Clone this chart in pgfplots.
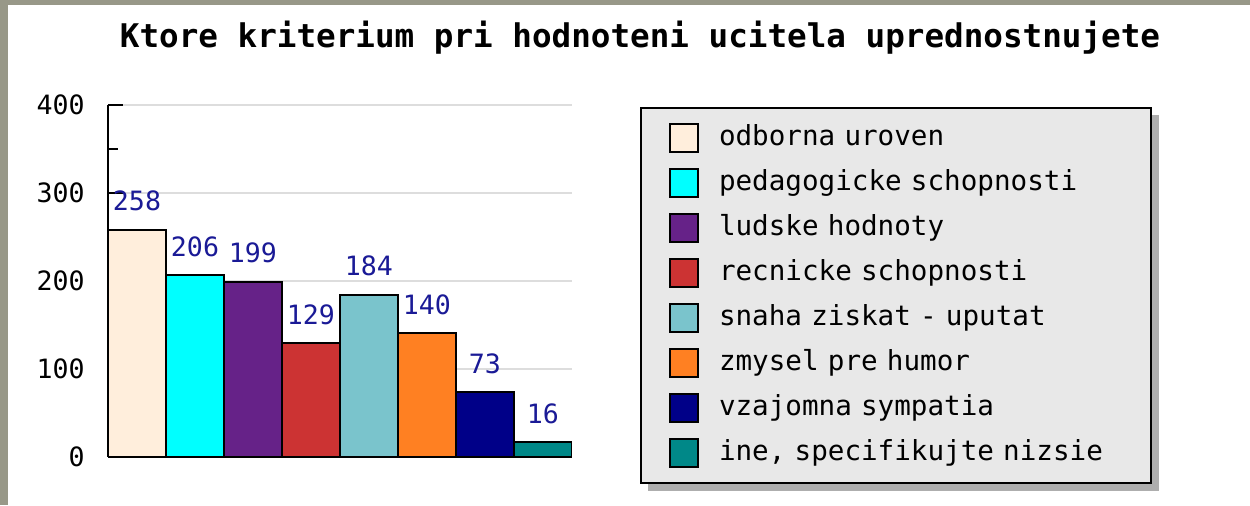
\documentclass[border=0pt]{standalone}
\usepackage{fontspec}
\setmainfont{DejaVu Sans}
\setmonofont{DejaVu Sans Mono}
\usepackage{pgfplots}
\pgfplotsset{compat=1.18}

\definecolor{framegray}{RGB}{152,152,136}
\definecolor{gridgray}{RGB}{221,221,221}
\definecolor{legendgray}{RGB}{232,232,232}
\definecolor{shadowgray}{RGB}{174,174,174}
\definecolor{valblue}{RGB}{26,26,150}
\definecolor{c1}{RGB}{255,238,220}
\definecolor{c2}{RGB}{0,255,255}
\definecolor{c3}{RGB}{102,34,136}
\definecolor{c4}{RGB}{204,51,51}
\definecolor{c5}{RGB}{122,196,204}
\definecolor{c6}{RGB}{255,128,34}
\definecolor{c7}{RGB}{0,0,136}
\definecolor{c8}{RGB}{0,136,136}

\pgfplotsset{
  leg/.style={legend image code/.code={%
    \draw[##1, draw=black, line width=1.2pt] (0.6pt,-7pt) rectangle (14.4pt,7pt);}},
  bar/.style={fill=#1, draw=black, line width=1pt, leg},
}

\begin{document}
\begin{tikzpicture}
  % background and frame
  \fill[white] (0,0) rectangle (625pt,252.5pt);
  \fill[framegray] (0,0) rectangle (4pt,252.5pt);
  \fill[framegray] (0,250pt) rectangle (625pt,252.5pt);
  % shadow behind the legend box
  \fill[shadowgray] (324pt,7pt) rectangle (579.5pt,195pt);

  \node[anchor=base, inner sep=0pt, font=\ttfamily\bfseries\fontsize{16.3}{18}\selectfont]
    at (320pt,229pt) {Ktore kriterium pri hodnoteni ucitela uprednostnujete};

  \begin{axis}[
    at={(54pt,24.25pt)}, anchor=south west,
    scale only axis, width=232pt, height=175.75pt,
    xmin=0.5, xmax=8.5, ymin=0, ymax=400,
    axis x line*=bottom, axis y line*=left,
    axis line style={black, line width=1pt},
    xtick=\empty,
    ytick={0,100,200,300,400},
    minor y tick num=1,
    tick align=inside,
    major tick length=7.5pt, minor tick length=5pt,
    tick style={black, line width=1pt},
    ymajorgrids, grid style={gridgray, line width=1pt},
    /pgf/number format/assume math mode=true,
    yticklabel style={font=\ttfamily\fontsize{13.3}{15}\selectfont, inner sep=0pt, xshift=-11.5pt},
    ybar, bar width=1, bar shift=0pt,
    nodes near coords,
    every node near coord/.append style={font=\ttfamily\fontsize{13.3}{15}\selectfont,
      text=valblue, anchor=base, yshift=9.5pt, inner sep=0pt},
    legend cell align=left,
    legend style={at={(1.1466,0.9943)}, anchor=north west,
      draw=black, line width=1pt, fill=legendgray,
      inner xsep=14pt, inner ysep=3.75pt,
      /tikz/row sep=0pt, /tikz/column sep=10pt,
      font=\ttfamily\fontsize{13.8}{16}\selectfont,
      nodes={inner sep=0pt, text width=202pt, align=left, text height=14.95pt, text depth=7.55pt}},
  ]
    \addplot[bar=c1] coordinates {(1,258)};
    \addlegendentry{odborna uroven}
    \addplot[bar=c2] coordinates {(2,206)};
    \addlegendentry{pedagogicke schopnosti}
    \addplot[bar=c3] coordinates {(3,199)};
    \addlegendentry{ludske hodnoty}
    \addplot[bar=c4] coordinates {(4,129)};
    \addlegendentry{recnicke schopnosti}
    \addplot[bar=c5] coordinates {(5,184)};
    \addlegendentry{snaha ziskat - uputat}
    \addplot[bar=c6] coordinates {(6,140)};
    \addlegendentry{zmysel pre humor}
    \addplot[bar=c7] coordinates {(7,73)};
    \addlegendentry{vzajomna sympatia}
    \addplot[bar=c8] coordinates {(8,16)};
    \addlegendentry{ine, specifikujte nizsie}
  \end{axis}
\end{tikzpicture}
\end{document}
